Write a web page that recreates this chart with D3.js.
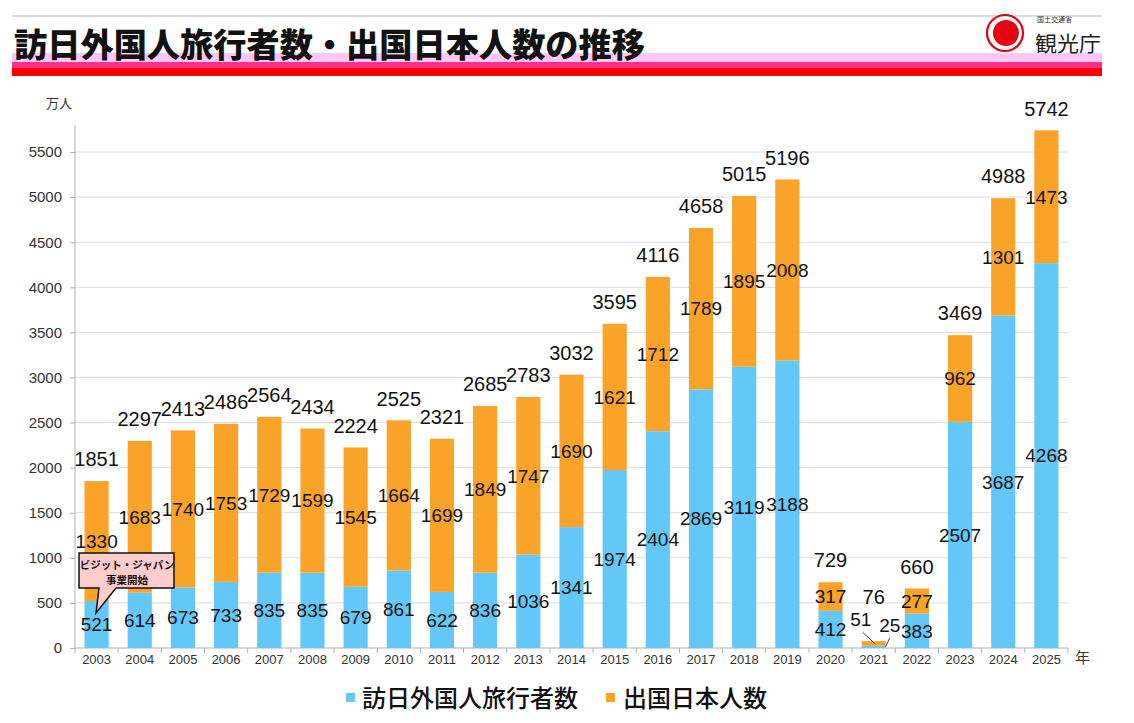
<!DOCTYPE html>
<html><head><meta charset="utf-8">
<script src="https://cdn.jsdelivr.net/npm/d3@7"></script>
<style>
html,body{margin:0;padding:0;background:#fff;}
svg{display:block;}
</style></head>
<body>
<svg id="chart" width="1134" height="723"></svg>
<script>
// ---- data ----
const years = ['2003','2004','2005','2006','2007','2008','2009','2010','2011','2012','2013','2014','2015','2016','2017','2018','2019','2020','2021','2022','2023','2024','2025'];
const inbound = [521,614,673,733,835,835,679,861,622,836,1036,1341,1974,2404,2869,3119,3188,412,25,383,2507,3687,4268];
const outbound = [1330,1683,1740,1753,1729,1599,1545,1664,1699,1849,1747,1690,1621,1712,1789,1895,2008,317,51,277,962,1301,1473];
const totals = [1851,2297,2413,2486,2564,2434,2224,2525,2321,2685,2783,3032,3595,4116,4658,5015,5196,729,76,660,3469,4988,5742];
const yTicks = [0,500,1000,1500,2000,2500,3000,3500,4000,4500,5000,5500];
const seriesNames = ['訪日外国人旅行者数','出国日本人数'];
const titleText = '訪日外国人旅行者数・出国日本人数の推移';
const calloutLines = ['ビジット・ジャパン','事業開始'];

// ---- styles ----
const BLUE = '#63c7f8', ORANGE = '#f9a328';
const NUM_FONT = '"Liberation Sans", Arial, sans-serif';
const JP_FONT = '"Noto Sans CJK JP", "Noto Sans", sans-serif';

const svg = d3.select('#chart');

// header
svg.append('line').attr('x1',12).attr('x2',1102).attr('y1',16).attr('y2',16).attr('stroke','#d0d0d0').attr('stroke-width',1.5);
svg.append('rect').attr('x',12).attr('y',53).attr('width',1090).attr('height',9).attr('fill','#ffc8f2');
svg.append('rect').attr('x',12).attr('y',62).attr('width',1090).attr('height',6).attr('fill','#ff2e8c');
svg.append('rect').attr('x',12).attr('y',68).attr('width',1090).attr('height',8).attr('fill','#ff0000');
svg.append('text').attr('x',14).attr('y',57).attr('font-family',JP_FONT).attr('font-weight',900)
  .attr('font-size',33).attr('fill','#111').attr('textLength',631).attr('lengthAdjust','spacingAndGlyphs').text(titleText);

// logo
const logo = svg.append('g');
logo.append('circle').attr('cx',1005).attr('cy',33).attr('r',18).attr('fill','none').attr('stroke','#e60012').attr('stroke-width',2.2);
logo.append('circle').attr('cx',1005).attr('cy',33).attr('r',15.5).attr('fill','#fff');
logo.append('circle').attr('cx',1006).attr('cy',33).attr('r',13).attr('fill','#e60012');
logo.append('text').attr('x',1037).attr('y',22).attr('font-family',JP_FONT).attr('font-size',7).attr('fill','#333').text('国土交通省');
logo.append('text').attr('x',1035).attr('y',51).attr('font-family',JP_FONT).attr('font-size',21).attr('fill','#222')
  .attr('textLength',66).attr('lengthAdjust','spacingAndGlyphs').text('観光庁');

// scales
const x = d3.scaleBand().domain(years).range([75,1068]).paddingInner(0.44).paddingOuter(0.22);
const y = d3.scaleLinear().domain([0,5800]).range([648,125]);

// gridlines
svg.append('g').selectAll('line').data(yTicks.filter(d=>d>0)).join('line')
  .attr('x1',75).attr('x2',1068).attr('y1',d=>y(d)).attr('y2',d=>y(d))
  .attr('stroke','#dcdcdc').attr('stroke-width',1);

// y axis
const yAxis = svg.append('g').attr('transform','translate(75,0)')
  .call(d3.axisLeft(y).tickValues(yTicks).tickSize(5).tickPadding(8).tickFormat(d3.format('d')));
yAxis.select('.domain').attr('stroke','#b0b0b0').attr('d','M0,'+y(0)+'V'+y(5800));
yAxis.selectAll('.tick line').attr('stroke','#b0b0b0');
yAxis.selectAll('.tick text').attr('font-family',NUM_FONT).attr('font-size',15).attr('fill','#333');

// x axis
const xAxis = svg.append('g').attr('transform','translate(0,648)');
xAxis.append('line').attr('x1',75).attr('x2',1068).attr('y1',0).attr('y2',0).attr('stroke','#b0b0b0');
xAxis.selectAll('line.tk').data(d3.range(years.length+1)).join('line').attr('class','tk')
  .attr('x1',i=>75+i*x.step()).attr('x2',i=>75+i*x.step()).attr('y1',0).attr('y2',5).attr('stroke','#b0b0b0');
xAxis.selectAll('text').data(years).join('text')
  .attr('x',d=>x(d)+x.bandwidth()/2).attr('y',16).attr('text-anchor','middle')
  .attr('font-family',NUM_FONT).attr('font-size',13).attr('fill','#333').text(d=>d);

svg.append('text').attr('x',46).attr('y',108).attr('font-family',JP_FONT).attr('font-size',13).attr('fill','#333').text('万人');
svg.append('text').attr('x',1075).attr('y',663).attr('font-family',JP_FONT).attr('font-size',15).attr('fill','#333').text('年');

// stacked bars
const rows = years.map((yr,i)=>({year:yr, inbound:inbound[i], outbound:outbound[i], total:totals[i]}));
const stack = d3.stack().keys(['inbound','outbound'])(rows);
const colors = {inbound:BLUE, outbound:ORANGE};
stack.forEach(layer=>{
  svg.append('g').selectAll('rect').data(layer).join('rect')
    .attr('x',d=>x(d.data.year)).attr('width',x.bandwidth())
    .attr('y',d=>y(d[1])).attr('height',d=>y(d[0])-y(d[1]))
    .attr('fill',colors[layer.key]);
});

// segment labels
const smallOffsets = {outbound:[-13,-24], inbound:[16,-22]};
const labelG = svg.append('g').attr('font-family',NUM_FONT).attr('fill','#111');
const minLabelY = {};
stack.forEach(layer=>{
  layer.forEach(d=>{
    const cx = x(d.data.year)+x.bandwidth()/2;
    const cy = (y(d[0])+y(d[1]))/2;
    const h = y(d[0])-y(d[1]);
    let lx = cx, ly = cy;
    if(h < 12){
      const o = smallOffsets[layer.key];
      lx = cx+o[0]; ly = cy+o[1];
      const sx = layer.key==='outbound' ? cx+1 : cx+12;
      labelG.append('line').attr('x1',lx+ (layer.key==='outbound'?2:0)).attr('y1',ly+13)
        .attr('x2',sx).attr('y2',cy).attr('stroke','#444').attr('stroke-width',1);
    }
    minLabelY[d.data.year] = Math.min(minLabelY[d.data.year] ?? 1e9, h<12 ? ly : 1e9);
    labelG.append('text').attr('x',lx).attr('y',ly).attr('dy','0.36em').attr('text-anchor','middle')
      .attr('font-size',19).text(d.data[layer.key]);
  });
});

// total labels
rows.forEach(r=>{
  const cx = x(r.year)+x.bandwidth()/2;
  let ly = y(r.inbound+r.outbound)-22;
  if(minLabelY[r.year] < 1e9) ly = Math.min(ly, minLabelY[r.year]-23);
  labelG.append('text').attr('x',cx).attr('y',ly).attr('dy','0.36em').attr('text-anchor','middle')
    .attr('font-size',20).text(r.total);
});

// callout
const co = svg.append('g');
co.append('path').attr('d','M79,553 H174 V588 H116 L96,613 L99,588 H79 Z')
  .attr('fill','#ffcccc').attr('stroke','#111').attr('stroke-width',1.5).attr('stroke-linejoin','miter');
co.selectAll('text').data(calloutLines).join('text')
  .attr('x',127).attr('y',(d,i)=>565+i*15).attr('dy','0.35em').attr('text-anchor','middle')
  .attr('font-family',JP_FONT).attr('font-weight',700).attr('font-size',10.5).attr('fill','#111').text(d=>d);

// legend
const lg = svg.append('g').attr('font-family',JP_FONT).attr('font-size',24).attr('fill','#111');
const legendItems = [{name:seriesNames[0], color:BLUE, x:346, tx:362},{name:seriesNames[1], color:ORANGE, x:606, tx:623}];
legendItems.forEach(it=>{
  lg.append('rect').attr('x',it.x).attr('y',693).attr('width',9).attr('height',9).attr('fill',it.color);
  lg.append('text').attr('x',it.tx).attr('y',698).attr('dy','0.36em').attr('font-weight',500).text(it.name);
});
</script>
</body></html>
